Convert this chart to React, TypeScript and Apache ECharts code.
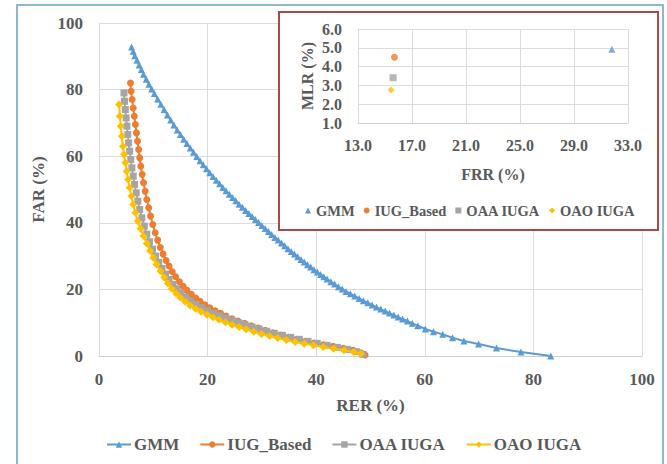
import React, { useEffect, useRef } from "react";
import * as echarts from "echarts";

const SERIES_NAMES = ["GMM", "IUG_Based", "OAA IUGA", "OAO IUGA"];
const COLORS = ["#5B9BD5", "#ED7D31", "#A5A5A5", "#FFC000"];
const SYMBOLS = ["triangle", "circle", "rect", "diamond"];

// Main chart: RER (%) vs FAR (%)
const GMM_RER = [6.0, 6.3, 6.6, 7.0, 7.4, 7.8, 8.2, 8.7, 9.2, 9.7, 10.2, 10.8, 11.4, 12.0, 12.6, 13.2, 13.8, 14.4, 15.0, 15.6, 16.2, 16.8, 17.4, 18.0, 18.6, 19.2, 19.8, 20.4, 21.0, 21.6, 22.2, 22.8, 23.4, 24.0, 24.6, 25.2, 25.8, 26.4, 27.0, 27.6, 28.2, 28.8, 29.4, 30.0, 30.6, 31.2, 31.8, 32.4, 33.0, 33.6, 34.2, 34.8, 35.4, 36.0, 36.6, 37.2, 37.8, 38.4, 39.0, 39.6, 40.2, 40.8, 41.4, 42.0, 42.7, 43.4, 44.1, 44.8, 45.5, 46.3, 47.1, 47.9, 48.7, 49.5, 50.3, 51.1, 51.9, 52.7, 53.5, 54.3, 55.1, 55.9, 56.8, 57.7, 58.7, 60.1, 61.6, 63.3, 65.1, 67.2, 69.9, 73.2, 77.7, 83.2];
const GMM_FAR = [92.8, 91.5, 90.2, 88.8, 87.4, 86.0, 84.6, 83.1, 81.6, 80.2, 78.8, 77.2, 75.6, 74.0, 72.4, 70.9, 69.4, 67.9, 66.5, 65.1, 63.8, 62.5, 61.2, 59.9, 58.6, 57.4, 56.2, 55.0, 53.9, 52.8, 51.7, 50.6, 49.6, 48.6, 47.6, 46.6, 45.6, 44.7, 43.7, 42.8, 41.9, 41.0, 40.1, 39.2, 38.3, 37.4, 36.5, 35.6, 34.8, 33.9, 33.1, 32.2, 31.4, 30.6, 29.8, 29.0, 28.2, 27.4, 26.7, 25.9, 25.2, 24.5, 23.8, 23.1, 22.3, 21.6, 20.8, 20.1, 19.4, 18.7, 18.0, 17.3, 16.6, 16.0, 15.3, 14.7, 14.1, 13.5, 12.9, 12.3, 11.7, 11.1, 10.5, 9.8, 9.1, 8.1, 7.3, 6.5, 5.5, 4.5, 3.6, 2.4, 1.2, 0.0];

const IUG_RER = [5.8, 5.9, 6.1, 6.3, 6.5, 6.7, 6.9, 7.1, 7.3, 7.5, 7.7, 7.95, 8.2, 8.5, 8.8, 9.15, 9.5, 9.9, 10.35, 10.8, 11.3, 11.8, 12.35, 12.9, 13.5, 14.1, 14.8, 15.5, 16.2, 17.0, 17.8, 18.6, 19.5, 20.4, 21.4, 22.4, 23.4, 24.5, 25.6, 26.8, 28.0, 29.3, 30.6, 32.0, 33.4, 34.9, 36.4, 38.0, 39.6, 41.3, 43.1, 45.0, 46.8, 48.2, 49.0];
const IUG_FAR = [82.0, 79.5, 77.0, 74.5, 72.0, 69.5, 67.0, 64.5, 62.0, 59.5, 57.0, 54.5, 52.0, 49.5, 47.0, 44.5, 42.0, 39.5, 37.0, 34.8, 32.6, 30.6, 28.7, 27.0, 25.3, 23.8, 22.3, 20.9, 19.7, 18.5, 17.4, 16.4, 15.4, 14.5, 13.6, 12.8, 12.0, 11.2, 10.5, 9.8, 9.1, 8.4, 7.7, 7.0, 6.3, 5.6, 5.0, 4.4, 3.9, 3.4, 2.9, 2.3, 1.7, 1.0, 0.3];

const OAA_RER = [4.6, 4.7, 4.85, 5.0, 5.15, 5.3, 5.45, 5.65, 5.85, 6.05, 6.3, 6.55, 6.85, 7.15, 7.5, 7.9, 8.35, 8.8, 9.3, 9.85, 10.4, 11.0, 11.6, 12.25, 12.9, 13.6, 14.3, 15.1, 15.9, 16.8, 17.8, 18.9, 20.0, 21.1, 22.2, 23.3, 24.5, 25.7, 26.9, 28.2, 29.5, 30.9, 32.3, 33.8, 35.3, 36.9, 38.5, 40.2, 42.0, 43.9, 45.8, 47.4, 48.6];
const OAA_FAR = [79.0, 76.5, 74.0, 71.5, 69.0, 66.5, 64.0, 61.5, 59.0, 56.5, 54.0, 51.5, 49.0, 46.5, 44.0, 41.5, 39.0, 36.6, 34.3, 32.1, 30.0, 28.1, 26.3, 24.6, 23.0, 21.5, 20.2, 18.9, 17.7, 16.6, 15.5, 14.5, 13.6, 12.8, 12.1, 11.4, 10.7, 10.0, 9.4, 8.7, 8.1, 7.4, 6.8, 6.2, 5.6, 5.0, 4.4, 3.8, 3.2, 2.6, 2.0, 1.3, 0.5];

const OAO_RER = [3.7, 3.85, 4.0, 4.2, 4.4, 4.6, 4.85, 5.1, 5.35, 5.65, 5.95, 6.3, 6.7, 7.15, 7.65, 8.2, 8.8, 9.4, 10.0, 10.6, 11.3, 12.0, 12.7, 13.4, 14.2, 15.0, 15.9, 16.8, 17.8, 18.8, 19.9, 21.0, 22.1, 23.3, 24.5, 25.8, 27.1, 28.5, 29.9, 31.4, 32.9, 34.5, 36.1, 37.8, 39.5, 41.3, 43.2, 45.1, 46.9, 48.2];
const OAO_FAR = [75.5, 72.0, 69.0, 66.0, 63.0, 60.5, 58.0, 55.5, 53.0, 50.5, 48.0, 45.5, 43.0, 40.5, 38.2, 36.0, 33.8, 31.6, 29.5, 27.5, 25.5, 23.6, 21.8, 20.2, 18.8, 17.5, 16.3, 15.2, 14.2, 13.3, 12.4, 11.6, 10.9, 10.1, 9.4, 8.7, 8.0, 7.3, 6.6, 6.0, 5.4, 4.8, 4.2, 3.7, 3.2, 2.7, 2.2, 1.7, 1.2, 0.7];

// Inset: FRR (%) vs MLR (%)
const INSET_FRR = [31.8, 15.7, 15.6, 15.45];
const INSET_MLR = [4.92, 4.5, 3.41, 2.76];
const INSET_X_MIN = 13;
const INSET_X_MAX = 33;
const INSET_X_STEP = 4;

const MAIN_RER = [GMM_RER, IUG_RER, OAA_RER, OAO_RER];
const MAIN_FAR = [GMM_FAR, IUG_FAR, OAA_FAR, OAO_FAR];
const SYMBOL_SIZES = [7, 7, 7, 8];

const FONT = "'Liberation Serif', 'Times New Roman', serif";
const TXT = "#595959";
const GRID_LINE = "#DCDCDC";

export default function App() {
  const ref = useRef<HTMLDivElement>(null);
  useEffect(() => {
    if (!ref.current) return;
    const chart = echarts.init(ref.current, undefined, { renderer: "svg" });

    const labelStyle = { fontFamily: FONT, fontWeight: "bold", color: TXT };

    const mainSeries = SERIES_NAMES.map((name, i) => ({
      name,
      type: "line",
      xAxisIndex: 0,
      yAxisIndex: 0,
      data: MAIN_RER[i].map((x, k) => [x, MAIN_FAR[i][k]]),
      symbol: SYMBOLS[i],
      symbolSize: SYMBOL_SIZES[i],
      showSymbol: true,
      color: COLORS[i],
      lineStyle: { width: 2, color: COLORS[i] },
      itemStyle: { color: COLORS[i] },
      z: 3 + i,
    }));

    const insetSeries = SERIES_NAMES.map((name, i) => ({
      name,
      type: "scatter",
      xAxisIndex: 1,
      yAxisIndex: 1,
      data: [[INSET_FRR[i] - INSET_X_MIN, INSET_MLR[i]]],
      symbol: SYMBOLS[i],
      symbolSize: 7,
      color: COLORS[i],
      itemStyle: { color: COLORS[i] },
      z: 10,
    }));

    chart.setOption({
      animation: false,
      backgroundColor: "#ffffff",
      grid: [
        { left: 99, top: 23, width: 543, height: 333 },
        { left: 358, top: 29, width: 270, height: 94 },
      ],
      xAxis: [
        {
          type: "value",
          gridIndex: 0,
          min: 0,
          max: 100,
          interval: 20,
          z: 0,
          axisLine: { show: true, lineStyle: { color: "#D0D0D0", width: 1 } },
          axisTick: { show: false },
          splitLine: { show: true, lineStyle: { color: GRID_LINE, width: 1 } },
          axisLabel: { ...labelStyle, fontSize: 17, margin: 15 },
          name: "RER (%)",
          nameLocation: "middle",
          nameGap: 41,
          nameTextStyle: { ...labelStyle, fontSize: 17 },
        },
        {
          type: "value",
          gridIndex: 1,
          min: 0,
          max: INSET_X_MAX - INSET_X_MIN,
          interval: INSET_X_STEP,
          z: 2,
          axisLine: { show: true, lineStyle: { color: "#D0D0D0", width: 1 } },
          axisTick: { show: false },
          splitLine: { show: true, lineStyle: { color: GRID_LINE, width: 1 } },
          axisLabel: {
            ...labelStyle,
            fontSize: 16,
            margin: 14,
            formatter: (v: number) => (v + INSET_X_MIN).toFixed(1),
          },
          name: "FRR (%)",
          nameLocation: "middle",
          nameGap: 43,
          nameTextStyle: { ...labelStyle, fontSize: 16 },
        },
      ],
      yAxis: [
        {
          type: "value",
          gridIndex: 0,
          min: 0,
          max: 100,
          interval: 20,
          z: 0,
          axisLine: { show: false },
          axisTick: { show: false },
          splitLine: { show: true, lineStyle: { color: GRID_LINE, width: 1 } },
          axisLabel: { ...labelStyle, fontSize: 17, margin: 16 },
          name: "FAR (%)",
          nameLocation: "middle",
          nameGap: 47,
          nameRotate: 90,
          nameTextStyle: { ...labelStyle, fontSize: 17 },
        },
        {
          type: "value",
          gridIndex: 1,
          min: 1,
          max: 6,
          interval: 1,
          z: 2,
          axisLine: { show: false },
          axisTick: { show: false },
          splitLine: { show: true, lineStyle: { color: GRID_LINE, width: 1 } },
          axisLabel: {
            ...labelStyle,
            fontSize: 16,
            margin: 16,
            formatter: (v: number) => v.toFixed(1),
          },
          name: "MLR (%)",
          nameLocation: "middle",
          nameGap: 43,
          nameRotate: 90,
          nameTextStyle: { ...labelStyle, fontSize: 16 },
        },
      ],
      legend: [
        {
          left: 106,
          top: 436,
          padding: 0,
          itemWidth: 24,
          itemHeight: 8,
          itemGap: 20,
          selectedMode: false,
          data: SERIES_NAMES,
          textStyle: { ...labelStyle, fontSize: 17, padding: [0, 0, 0, -2] },
        },
        {
          left: 305,
          top: 203,
          padding: 0,
          itemWidth: 6,
          itemHeight: 6,
          itemGap: 9,
          selectedMode: false,
          data: SERIES_NAMES.map((name, i) => ({ name, icon: SYMBOLS[i] })),
          textStyle: { ...labelStyle, fontSize: 14.5 },
        },
      ],
      graphic: [
        {
          type: "rect",
          z: 1,
          silent: true,
          shape: { x: 279, y: 12, width: 379, height: 218 },
          style: { fill: "#ffffff", stroke: "#A94A4A", lineWidth: 2 },
        },
        {
          type: "rect",
          z: 1,
          silent: true,
          shape: { x: 17, y: 5, width: 646, height: 460 },
          style: { fill: "none", stroke: "#8DB9CF", lineWidth: 2 },
        },
      ],
      series: [...mainSeries, ...insetSeries],
    });

    return () => {
      chart.dispose();
    };
  }, []);

  return (
    <div
      ref={ref}
      style={{ position: "absolute", left: 0, top: 0, width: 667, height: 464 }}
    />
  );
}
